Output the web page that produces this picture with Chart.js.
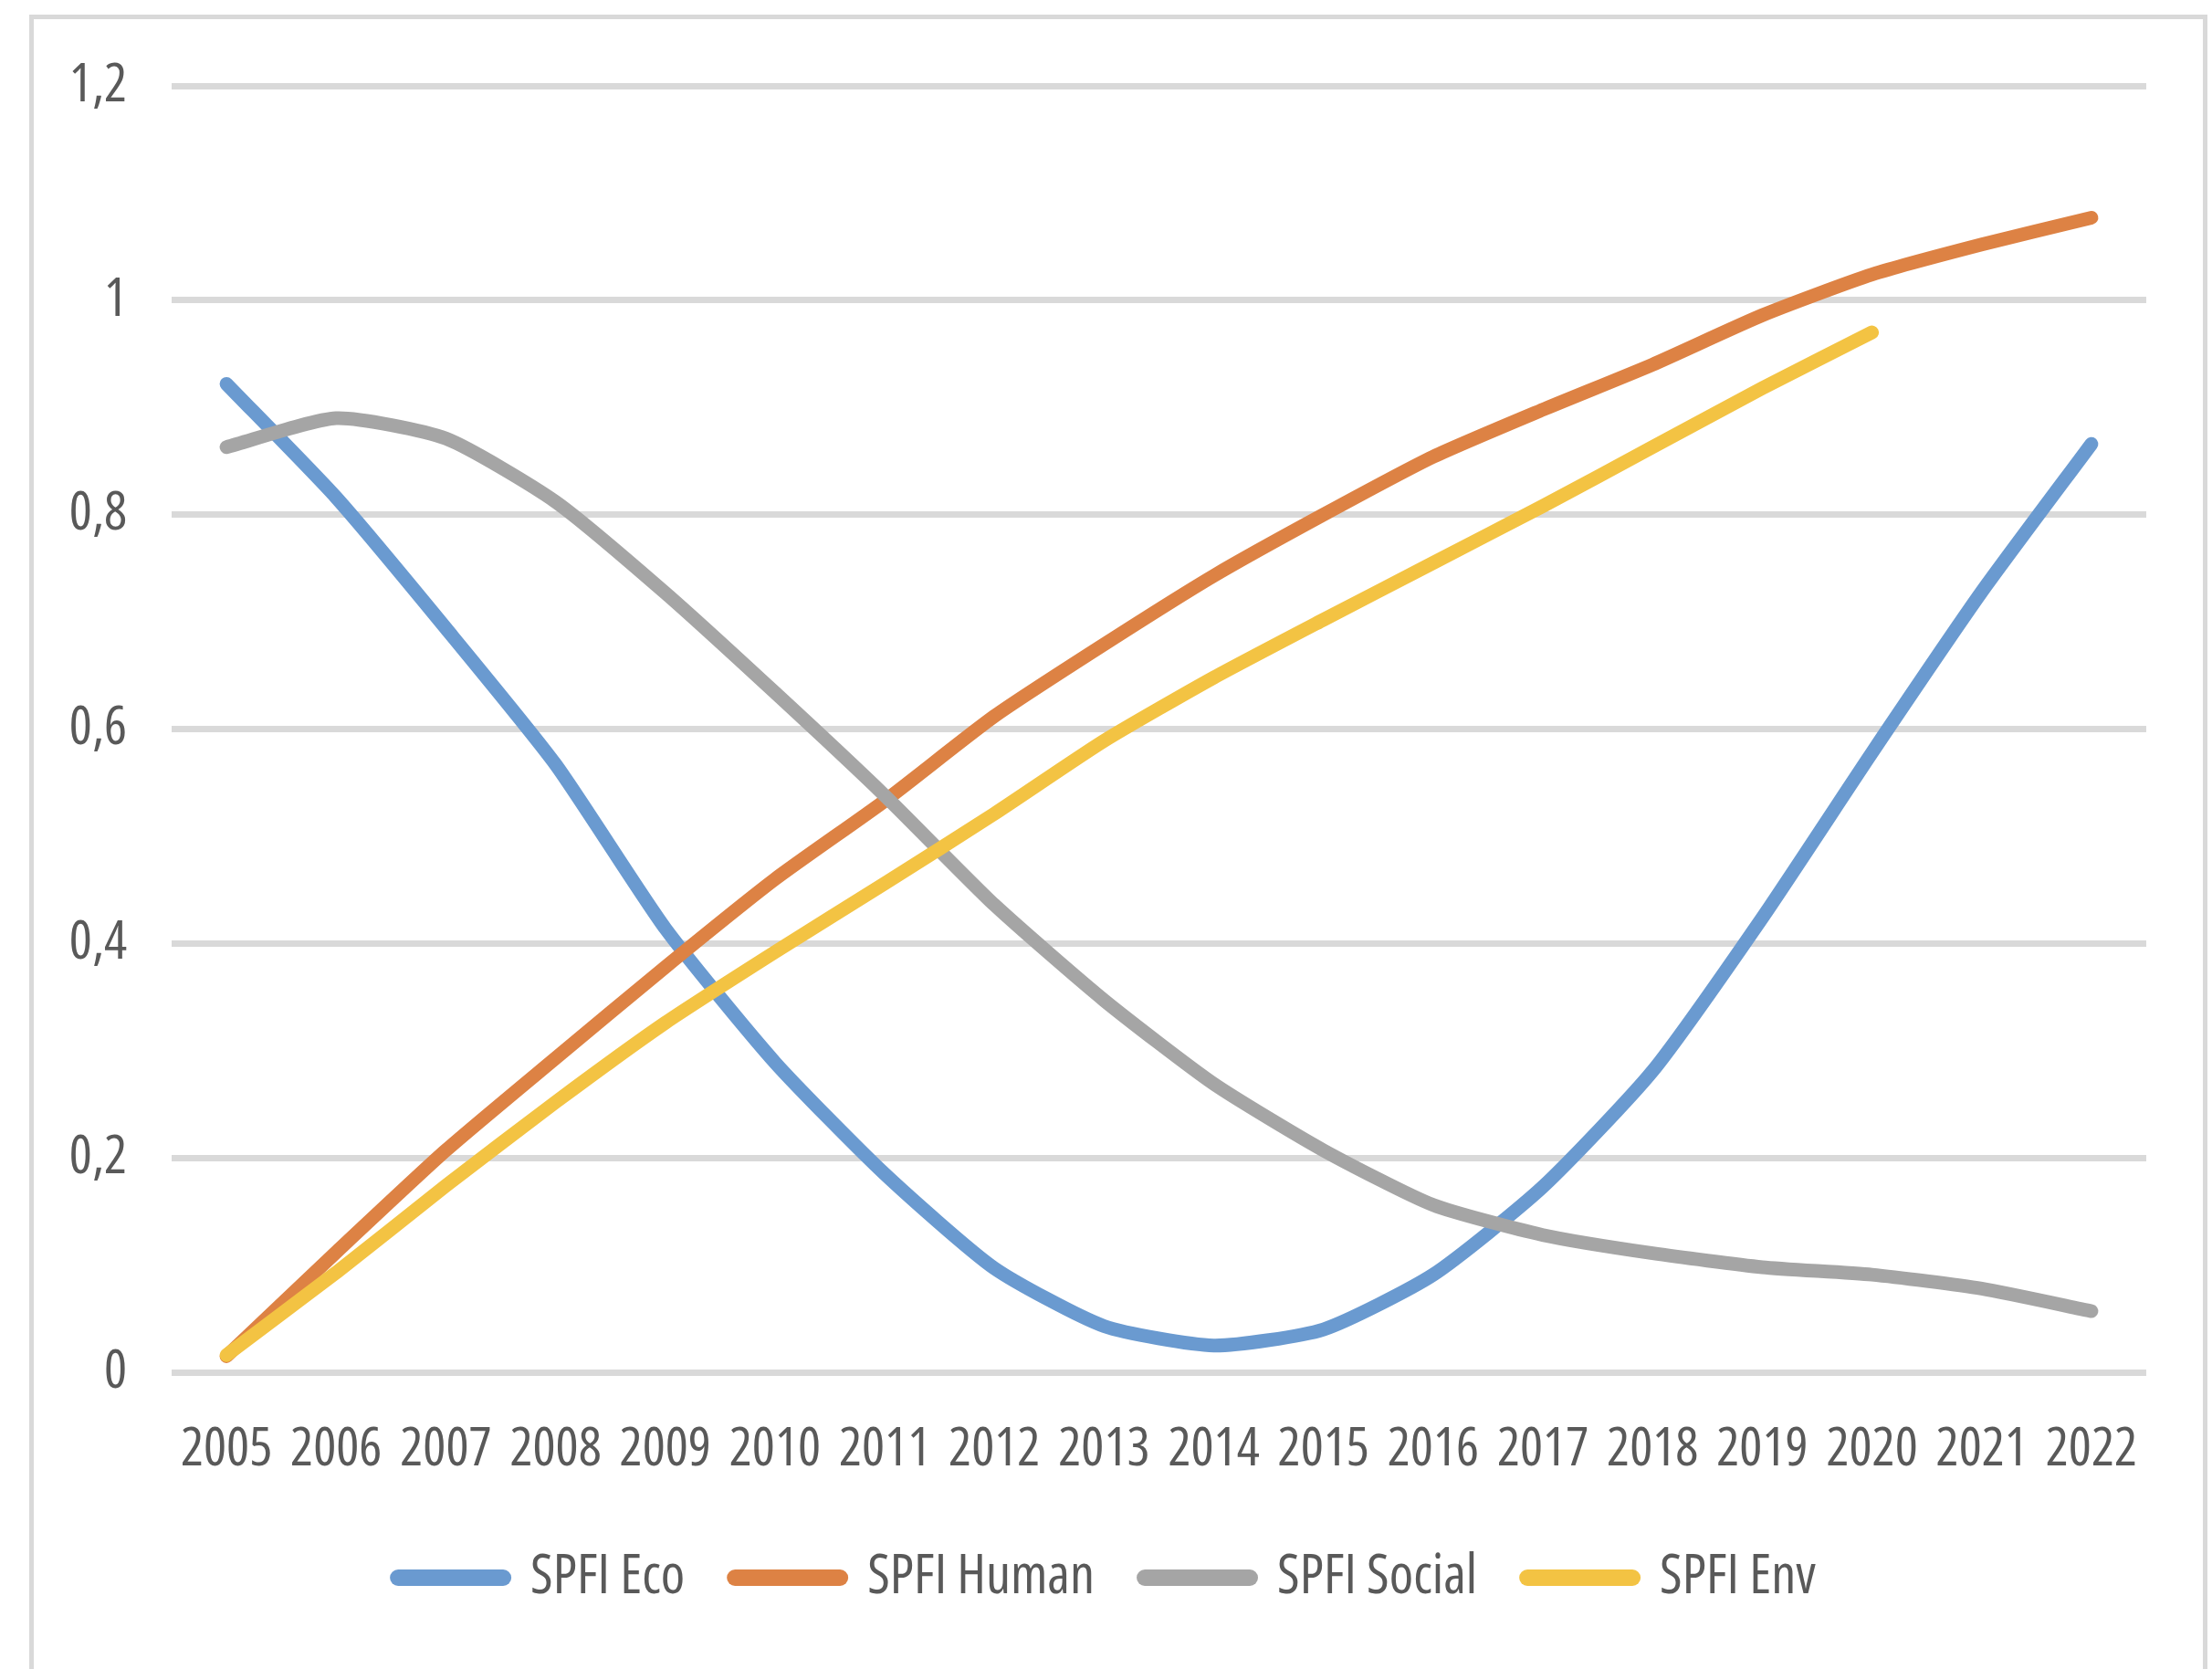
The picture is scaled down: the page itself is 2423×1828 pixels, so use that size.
<!DOCTYPE html>
<html>
<head>
<meta charset="utf-8">
<script src="https://cdn.jsdelivr.net/npm/chart.js@4/dist/chart.umd.min.js"></script>
<style>
  html, body { margin: 0; padding: 0; background: #ffffff; overflow: hidden; }
  #wrap { position: relative; width: 2423px; height: 1828px; }
  #frame {
    position: absolute; left: 32px; top: 16px; width: 2386px; height: 2000px;
    box-sizing: border-box; border: 5px solid #d9d9d9; border-bottom: none;
  }
  #chart { position: absolute; left: 0; top: 0; }
</style>
</head>
<body>
<div id="wrap">
  <div id="frame"></div>
  <canvas id="chart" width="2423" height="1828"></canvas>
</div>
<script>
// Years on the horizontal axis
const years = ['2005','2006','2007','2008','2009','2010','2011','2012','2013',
               '2014','2015','2016','2017','2018','2019','2020','2021','2022'];

// SPFI sub-indices per year
const spfiEco    = [0.922, 0.816, 0.694, 0.567, 0.414, 0.289, 0.185, 0.097, 0.043,
                    0.025, 0.040, 0.091, 0.173, 0.281, 0.424, 0.578, 0.728, 0.866];
const spfiHuman  = [0.015, 0.112, 0.207, 0.293, 0.378, 0.460, 0.533, 0.612, 0.679,
                    0.743, 0.800, 0.854, 0.898, 0.940, 0.986, 1.024, 1.052, 1.077];
const spfiSocial = [0.863, 0.890, 0.871, 0.812, 0.727, 0.634, 0.538, 0.436, 0.347,
                    0.269, 0.207, 0.156, 0.128, 0.111, 0.098, 0.091, 0.078, 0.057];
const spfiEnv    = [0.016, 0.093, 0.174, 0.252, 0.326, 0.392, 0.456, 0.521, 0.589,
                    0.648, 0.702, 0.755, 0.808, 0.863, 0.918, 0.970, null, null];

// Value axis labels (decimal comma)
const yTickLabels = ['0', '0,2', '0,4', '0,6', '0,8', '1', '1,2'];

// Narrow face of Open Sans (width axis) for all chart text
const FAMILY = "'Open Sans', sans-serif";
const STRETCH = 'condensed';
const TEXT = '#595959';
const GRID = '#d9d9d9';

function series(label, data, color, order) {
  return {
    label, data, order,
    borderColor: color,
    backgroundColor: color,
    borderWidth: 15,
    borderCapStyle: 'round',
    borderJoinStyle: 'round',
    pointRadius: 0,
    pointHoverRadius: 0,
    tension: 0.2,
    fill: false
  };
}

new Chart(document.getElementById('chart'), {
  type: 'line',
  data: {
    labels: years,
    datasets: [
      series('SPFI Eco',    spfiEco,    '#6a9ad0', 4),
      series('SPFI Human',  spfiHuman,  '#dd8244', 3),
      series('SPFI Social', spfiSocial, '#a5a5a5', 2),
      series('SPFI Env',    spfiEnv,    '#f3c343', 1)
    ]
  },
  options: {
    responsive: false,
    animation: false,
    layout: { padding: { left: 74, right: 72, top: 94, bottom: 60 } },
    plugins: {
      tooltip: { enabled: false },
      legend: {
        position: 'bottom',
        labels: {
          usePointStyle: true,
          pointStyle: 'line',
          pointStyleWidth: 115,
          padding: 55,
          color: TEXT,
          font: { family: FAMILY, weight: STRETCH, size: 60 },
          sort: (a, b) => a.datasetIndex - b.datasetIndex,
          generateLabels: (chart) =>
            Chart.defaults.plugins.legend.labels.generateLabels(chart)
              .map(item => Object.assign(item, { lineWidth: 18, lineCap: 'round' }))
        }
      }
    },
    scales: {
      x: {
        offset: true,
        grid: { display: false, drawTicks: false },
        border: { display: false },
        ticks: {
          color: TEXT,
          font: { family: FAMILY, weight: STRETCH, size: 59 },
          padding: 50,
          maxRotation: 0,
          minRotation: 0,
          autoSkip: false
        },
        afterFit: (scale) => { scale.height = 140; }
      },
      y: {
        min: 0,
        max: 1.2,
        grid: { color: GRID, lineWidth: 7, drawTicks: false },
        border: { display: false },
        ticks: {
          stepSize: 0.2,
          color: TEXT,
          font: { family: FAMILY, weight: STRETCH, size: 59 },
          padding: 49,
          callback: (value, index) => yTickLabels[index]
        },
        afterFit: (scale) => { scale.width = 114; }
      }
    }
  }
});
</script>
</body>
</html>
